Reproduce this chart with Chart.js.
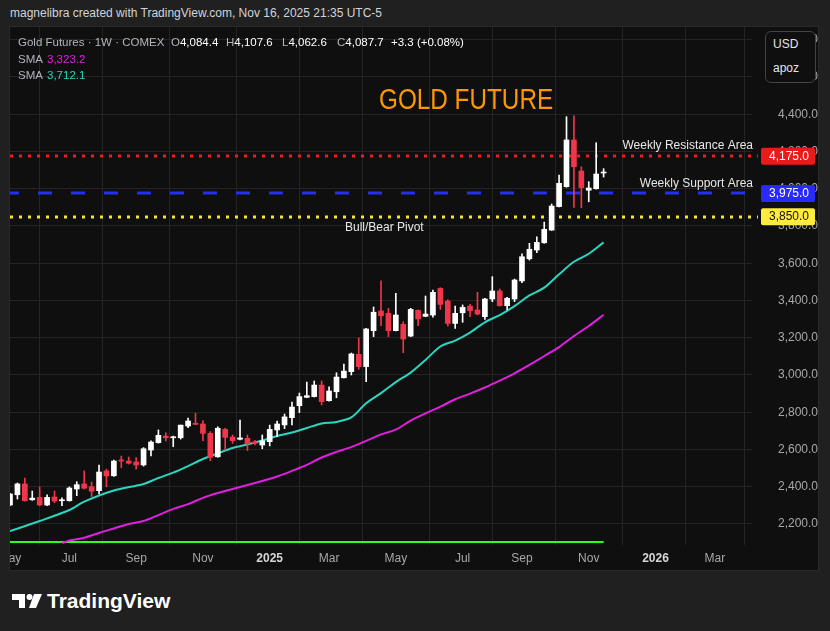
<!DOCTYPE html>
<html>
<head>
<meta charset="utf-8">
<script src="https://cdn.jsdelivr.net/npm/chart.js@4.4.1/dist/chart.umd.min.js"></script>
<style>
body{margin:0;background:#202020;width:830px;height:631px;overflow:hidden;font-family:"Liberation Sans",Arial,sans-serif;position:relative}
.a{position:absolute;white-space:nowrap;line-height:14px}
#pane{position:absolute;left:10px;top:27px;width:808px;height:543px;background:#0f0f0f;box-shadow:0 0 0 1px #2a2a2a}
#cv{position:absolute;left:0;top:0}
.g{color:#b2b5be}
.w{color:#ffffff}
.l{font-size:11.5px}
#usd{position:absolute;left:765px;top:31px;width:49px;height:50px;border:1px solid #444;border-radius:6px;background:#0f0f0f;color:#e6e6e6;font-size:12px}
</style>
</head>
<body>
<div class="a" style="left:10px;top:6px;font-size:12px;color:#d1d4dc">magnelibra created with TradingView.com, Nov 16, 2025 21:35 UTC-5</div>
<div id="pane"><canvas id="cv" width="808" height="543"></canvas></div>

<div class="a g l" style="left:18px;top:35px">Gold Futures · 1W · COMEX</div>
<div class="a l" style="left:171px;top:35px"><span class="g">O</span><span class="w">4,084.4</span></div>
<div class="a l" style="left:226px;top:35px"><span class="g">H</span><span class="w">4,107.6</span></div>
<div class="a l" style="left:282px;top:35px"><span class="g">L</span><span class="w">4,062.6</span></div>
<div class="a l" style="left:337px;top:35px"><span class="g">C</span><span class="w">4,087.7</span></div>
<div class="a w l" style="left:391px;top:35px">+3.3 (+0.08%)</div>
<div class="a g l" style="left:18px;top:52px">SMA</div>
<div class="a l" style="left:47px;top:52px;color:#e020e0">3,323.2</div>
<div class="a g l" style="left:18px;top:68px">SMA</div>
<div class="a l" style="left:47px;top:68px;color:#2ad6c0">3,712.1</div>

<div class="a" style="left:379px;top:84px;font-size:30px;line-height:30px;color:#ff9800;transform:scaleX(0.81);transform-origin:0 0">GOLD FUTURE</div>

<div id="usd"><div class="a" style="left:7px;top:5px">USD</div><div class="a" style="left:7px;top:29px">apoz</div></div>

<div class="a" style="left:12px;top:591px">
<svg width="32" height="20" viewBox="0 0 32 20"><path d="M0 3h13v14H7V9H0z" fill="#fff"/><circle cx="17.5" cy="6" r="3" fill="#fff"/><path d="M22 3h8l-6 14h-7z" fill="#fff"/></svg>
</div>
<div class="a" style="left:47px;top:590px;font-size:21px;line-height:22px;font-weight:bold;color:#fff">TradingView</div>

<script>
// weekly bars, first bar = week of 2024-05-06
var weekStart = Date.UTC(2024, 4, 6)
var weekCount = 101
var weeks = []
for (var i = 0; i < weekCount; i++) {
	weeks.push(new Date(weekStart + i * 7 * 864e5).toISOString().slice(0, 10))
}

var tickWeeks = [0, 8, 17, 26, 35, 43, 52, 61, 69, 78, 87, 95]
var tickNames = ["May", "Jul", "Sep", "Nov", "2025", "Mar", "May", "Jul", "Sep", "Nov", "2026", "Mar"]
var priceTicks = [2200, 2400, 2600, 2800, 3000, 3200, 3400, 3600, 3800, 4000, 4200, 4400, 4600, 4800]

var opens = [2302, 2357, 2415, 2330, 2343, 2302, 2345, 2325, 2325, 2388, 2415, 2400, 2379, 2485, 2459, 2544, 2538, 2533, 2517, 2597,
	2637, 2672, 2663, 2663, 2726, 2740, 2737, 2687, 2561, 2708, 2667, 2655, 2660, 2640, 2624, 2642, 2705, 2732, 2771, 2835,
	2880, 2884, 2946, 2862, 2910, 2985, 3018, 3111, 3045, 3238, 3344, 3331, 3238, 3272, 3209, 3347, 3315, 3322, 3465, 3397,
	3277, 3334, 3370, 3349, 3313, 3408, 3451, 3372, 3408, 3505, 3624, 3671, 3710, 3778, 3904, 4011, 4262, 4095, 3992, 4000, 4084.4]
var highs = [2365, 2420, 2447, 2377, 2399, 2357, 2377, 2341, 2399, 2427, 2485, 2425, 2517, 2495, 2543, 2565, 2560, 2556, 2610, 2646,
	2705, 2690, 2672, 2731, 2769, 2794, 2755, 2696, 2722, 2714, 2678, 2758, 2678, 2649, 2678, 2731, 2753, 2790, 2855, 2903,
	2962, 2968, 2968, 2937, 3012, 3059, 3118, 3199, 3251, 3365, 3505, 3358, 3439, 3286, 3358, 3350, 3424, 3456, 3469, 3404,
	3370, 3376, 3379, 3444, 3412, 3528, 3462, 3417, 3515, 3650, 3707, 3742, 3821, 3918, 4074, 4387, 4392, 4118, 4038, 4247, 4107.6]
var lows = [2298, 2334, 2322, 2327, 2298, 2298, 2314, 2298, 2323, 2352, 2388, 2347, 2361, 2400, 2456, 2502, 2522, 2495, 2511, 2565,
	2634, 2646, 2615, 2656, 2717, 2733, 2647, 2540, 2558, 2597, 2633, 2651, 2594, 2624, 2604, 2619, 2669, 2712, 2732, 2798,
	2878, 2882, 2839, 2860, 2878, 2984, 3000, 3031, 2964, 3206, 3265, 3206, 3236, 3120, 3206, 3265, 3313, 3310, 3352, 3263,
	3250, 3283, 3313, 3322, 3299, 3394, 3370, 3349, 3394, 3496, 3617, 3657, 3707, 3776, 3902, 4008, 3900, 3898, 3930, 3998, 4062.6]
var closes = [2361, 2415, 2325, 2339, 2302, 2343, 2323, 2330, 2393, 2411, 2392, 2376, 2479, 2458, 2538, 2538, 2526, 2517, 2604, 2640,
	2676, 2663, 2668, 2731, 2753, 2735, 2687, 2558, 2714, 2665, 2647, 2662, 2630, 2633, 2646, 2708, 2737, 2775, 2828, 2884,
	2889, 2946, 2857, 2914, 2989, 3021, 3113, 3045, 3247, 3337, 3318, 3238, 3322, 3193, 3352, 3301, 3327, 3444, 3379, 3277,
	3331, 3363, 3345, 3327, 3408, 3451, 3372, 3412, 3510, 3635, 3675, 3712, 3782, 3907, 4029, 4262, 4118, 4006, 4004, 4079, 4087.7]

// SMA readings (every second week)
var fastWeeks = [0, 4, 8, 10, 14, 18, 20, 22, 24, 26, 28, 30, 32, 34, 36, 38, 40, 42, 44, 46, 48, 50, 52, 54, 56, 58, 60, 62, 64, 66, 68, 70, 72, 74, 76, 78, 80]
var fastVals = [2162, 2216, 2275, 2320, 2380, 2415, 2447, 2476, 2511, 2549, 2579, 2608, 2627, 2648, 2672, 2691, 2715, 2740, 2748, 2772, 2848, 2903, 2962, 3013, 3081, 3153, 3185, 3228, 3283, 3322, 3370, 3427, 3469, 3541, 3608, 3651, 3712.1]
var slowWeeks = [7, 8, 10, 12, 14, 16, 18, 20, 22, 24, 26, 28, 30, 32, 34, 36, 38, 40, 42, 44, 46, 48, 50, 52, 54, 56, 58, 60, 62, 64, 66, 68, 70, 72, 74, 76, 78, 80]
var slowVals = [2097, 2111, 2126, 2152, 2176, 2200, 2216, 2248, 2281, 2307, 2340, 2366, 2388, 2409, 2431, 2455, 2485, 2517, 2557, 2587, 2613, 2646, 2681, 2707, 2755, 2794, 2830, 2870, 2900, 2933, 2970, 3009, 3054, 3102, 3150, 3209, 3263, 3323.2]
var greenLevel = 2103

var levelValues = [4175, 3975, 3850]
var levelNames = ["Weekly Resistance Area", "Weekly Support Area", "Bull/Bear Pivot"]
var levelColors = ["#ee1d1d", "#2430ee", "#f7e43c"]
var boxColors = ["#e81a1a", "#2a2aff", "#ffeb3b"]
var boxText = ["#ffffff", "#ffffff", "#111111"]

var up = "#ffffff"
var down = "#f0364a"
var candleColors = closes.map(function (c, i) { return c >= opens[i] ? up : down })

function pts(idx, vals) {
	return idx.map(function (w, k) { return {x: weeks[w], y: vals[k]} })
}

var levelsPlugin = {
	id: "levels",
	beforeDatasetsDraw: function (chart) {
		var ctx = chart.ctx
		var y = chart.scales.y
		ctx.save()
		levelValues.forEach(function (v, k) {
			var py = Math.round(y.getPixelForValue(v))
			ctx.strokeStyle = levelColors[k]
			ctx.lineWidth = 3
			ctx.setLineDash(k == 1 ? [14, 19] : [3, 6])
			ctx.beginPath()
			ctx.moveTo(k == 1 ? -5 : 0, py)
			ctx.lineTo(748, py)
			ctx.stroke()
		})
		ctx.restore()
	},
	afterDraw: function (chart) {
		var ctx = chart.ctx
		var y = chart.scales.y
		ctx.save()
		ctx.font = "12px 'Liberation Sans', Arial"
		ctx.textBaseline = "middle"
		ctx.fillStyle = "#e8e8e8"
		ctx.textAlign = "right"
		ctx.fillText(levelNames[0], 743, y.getPixelForValue(levelValues[0]) - 10)
		ctx.fillText(levelNames[1], 743, y.getPixelForValue(levelValues[1]) - 10)
		ctx.textAlign = "left"
		ctx.fillText(levelNames[2], 335, y.getPixelForValue(levelValues[2]) + 11)
		levelValues.forEach(function (v, k) {
			var py = y.getPixelForValue(v)
			ctx.fillStyle = boxColors[k]
			ctx.beginPath()
			ctx.roundRect(751, py - 8.5, 54, 17, 2)
			ctx.fill()
			ctx.fillStyle = boxText[k]
			ctx.textAlign = "right"
			ctx.fillText(v.toLocaleString("en-US", {minimumFractionDigits: 1}), 799, py + 0.5)
		})
		ctx.restore()
	},
}

var ctx = document.getElementById("cv").getContext("2d")
var myChart = new Chart(ctx, {
	type: "bar",
	data: {
		labels: weeks,
		datasets: [
			{
				data: opens.map(function (o, i) { return [o, closes[i]] }),
				backgroundColor: candleColors,
				barThickness: 5,
				minBarLength: 1,
				grouped: false,
				borderWidth: 0,
			},
			{
				data: lows.map(function (l, i) { return [l, highs[i]] }),
				backgroundColor: candleColors,
				barThickness: 1,
				grouped: false,
				borderWidth: 0,
			},
			{
				type: "line",
				data: pts(fastWeeks, fastVals),
				borderColor: "#2ad6c0",
				borderWidth: 2,
				pointRadius: 0,
				tension: 0.3,
				spanGaps: true,
			},
			{
				type: "line",
				data: pts(slowWeeks, slowVals),
				borderColor: "#e020e0",
				borderWidth: 2,
				pointRadius: 0,
				tension: 0.3,
				spanGaps: true,
			},
			{
				type: "line",
				data: [{x: weeks[0], y: greenLevel}, {x: weeks[closes.length - 1], y: greenLevel}],
				borderColor: "#2cff1a",
				borderWidth: 2,
				pointRadius: 0,
			},
		],
	},
	options: {
		responsive: false,
		animation: false,
		layout: {padding: 0},
		scales: {
			x: {
				offset: false,
				grid: {color: "#242424", drawTicks: false},
				border: {display: false},
				ticks: {
					autoSkip: false,
					maxRotation: 0,
					padding: 6,
					color: function (c) { return /20/.test(tickNames[tickWeeks.indexOf(c.tick.value)]) ? "#d6d6d6" : "#a8a8a8" },
					font: function (c) {
						var n = tickNames[tickWeeks.indexOf(c.tick && c.tick.value)]
						return {family: "'Liberation Sans', Arial", size: 12, weight: /20/.test(n) ? "bold" : "normal"}
					},
					callback: function (v) { return tickNames[tickWeeks.indexOf(v)] },
				},
				afterBuildTicks: function (s) {
					s.ticks = tickWeeks.map(function (w) { return {value: w} })
				},
				afterFit: function (s) {
					s.height = 25
					s.paddingLeft = 0
					s.paddingRight = 0
				},
			},
			y: {
				position: "right",
				min: 2087.25,
				max: 4868.4,
				grid: {color: "#242424", drawTicks: false},
				border: {display: false},
				ticks: {
					padding: 17,
					crossAlign: "far",
					color: "#a8a8a8",
					font: {family: "'Liberation Sans', Arial", size: 12},
					callback: function (v) { return v.toLocaleString("en-US", {minimumFractionDigits: 1}) },
				},
				afterBuildTicks: function (s) {
					s.ticks = priceTicks.map(function (p) { return {value: p} })
				},
				afterFit: function (s) {
					s.width = 66
					s.paddingTop = 0
					s.paddingBottom = 0
				},
			},
		},
		plugins: {
			legend: {display: false},
			tooltip: {enabled: false},
		},
	},
	plugins: [levelsPlugin],
})
</script>
</body>
</html>
